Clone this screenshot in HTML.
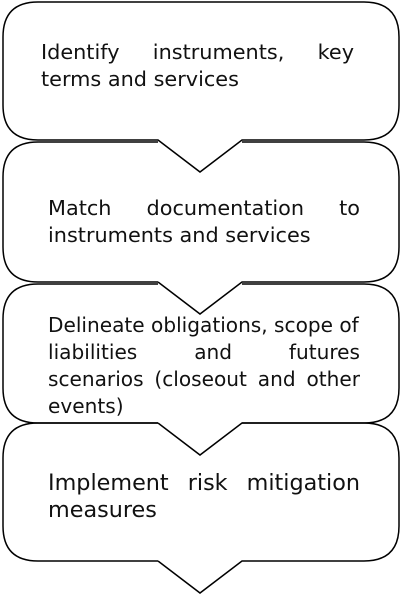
<!DOCTYPE html>
<html><head><meta charset="utf-8"><style>
body{margin:0;width:402px;height:595px;background:#fff;position:relative;overflow:hidden}
svg{position:absolute;left:0;top:0}
.t{position:absolute;font-family:"DejaVu Sans","Liberation Sans",sans-serif;line-height:27px;color:#111;white-space:nowrap}
.j{display:flex;justify-content:space-between}
</style></head><body>
<svg width="402" height="595" fill="none" stroke="#000" stroke-width="1.5">
<path d="M158,140 H38 Q3,140 3,105 V37 Q3,2 38,2 H364 Q399,2 399,37 V105 Q399,140 364,140 H242 L200,172 Z M158,140 L200,172"/>
<path d="M158,282 H38 Q3,282 3,247 V177 Q3,142 38,142 H158 M242,142 H364 Q399,142 399,177 V247 Q399,282 364,282 H242 L200,314 L158,282"/>
<path d="M158,423 H38 Q3,423 3,388 V319 Q3,284 38,284 H158 M242,284 H364 Q399,284 399,319 V388 Q399,423 364,423 H242 L200,455 L158,423"/>
<path d="M158,561 H38 Q3,561 3,526 V458 Q3,423 38,423 H158 M242,423 H364 Q399,423 399,458 V526 Q399,561 364,561 H242 L200,593 L158,561"/>
</svg>
<div class="t" style="left:41px;top:39px;width:313px;font-size:20.8px">
<div class="j"><span>Identify</span><span>instruments,</span><span>key</span></div>
<div>terms and services</div></div>
<div class="t" style="left:48px;top:195px;width:312px;font-size:20.8px">
<div class="j"><span>Match</span><span>documentation</span><span>to</span></div>
<div>instruments and services</div></div>
<div class="t" style="left:48px;top:312px;width:312px;font-size:20.1px">
<div class="j"><span>Delineate obligations, scope of</span></div>
<div class="j"><span>liabilities</span><span>and</span><span>futures</span></div>
<div class="j"><span>scenarios</span><span>(closeout</span><span>and</span><span>other</span></div>
<div>events)</div></div>
<div class="t" style="left:48px;top:470px;width:312px;font-size:22.3px">
<div class="j"><span>Implement</span><span>risk</span><span>mitigation</span></div>
<div>measures</div></div>
</body></html>
